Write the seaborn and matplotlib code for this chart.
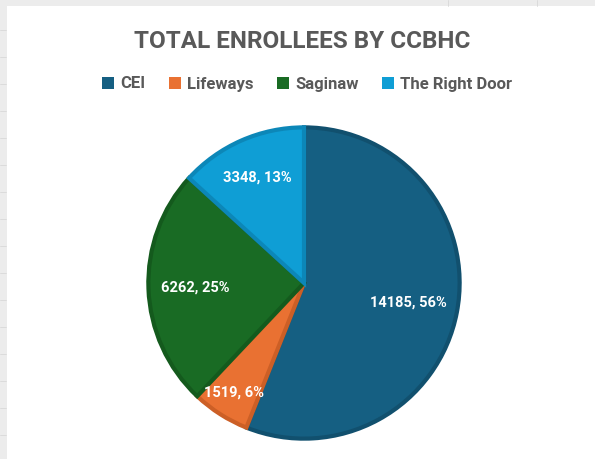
import matplotlib
matplotlib.use("Agg")
import matplotlib.pyplot as plt
from matplotlib.patches import Patch, Rectangle
from matplotlib.lines import Line2D
import seaborn as sns
import numpy as np

# ---- data ----
categories = ["CEI", "Lifeways", "Saginaw", "The Right Door"]
enrollees = [14185, 1519, 6262, 3348]
title = "TOTAL ENROLLEES BY CCBHC"

colors = ["#155F82", "#E97132", "#196B24", "#0F9ED5"]
edge_colors = ["#11506e", "#cc5f26", "#145a1d", "#0c87b8"]

sns.set_theme(style="white")
plt.rcParams["font.family"] = ["Roboto", "DejaVu Sans"]

W, H = 595, 459
fig = plt.figure(figsize=(W / 100, H / 100), dpi=100)
fig.patch.set_facecolor("#ececec")

# white chart area (spreadsheet look around it)
fig.add_artist(Rectangle((7 / W, 0), 1, 1 - 6 / H, transform=fig.transFigure,
                         facecolor="white", edgecolor="none", zorder=0))
for yy in range(30, H, 27):
    fig.add_artist(Line2D([0, 6 / W], [1 - yy / H] * 2, transform=fig.transFigure,
                          color="#d8d8d8", lw=0.6))
for xx in (448, 537):
    fig.add_artist(Line2D([xx / W] * 2, [1 - 6 / H, 1], transform=fig.transFigure,
                          color="#d8d8d8", lw=0.6))

cx, cy, r = 304, 176, 158
ax = fig.add_axes([(cx - r) / W, (cy - r) / H, 2 * r / W, 2 * r / H])
ax.axis("off")

total = sum(enrollees)
wedges, _ = ax.pie(enrollees, colors=colors, startangle=90, counterclock=False,
                   radius=0.985,
                   wedgeprops=dict(linewidth=3, joinstyle="miter"))
ax.set_xlim(-1.0, 1.0)
ax.set_ylim(-1.0, 1.0)
for w, ec in zip(wedges, edge_colors):
    w.set_edgecolor(ec)

label_dist = [0.67, 0.82, 0.69, 0.73]
for w, v, d in zip(wedges, enrollees, label_dist):
    ang = np.deg2rad((w.theta1 + w.theta2) / 2)
    pct = round(100 * v / total)
    ax.text(d * np.cos(ang), d * np.sin(ang), f"{v}, {pct}%", ha="center", va="center",
            color="white", fontsize=10.5, fontweight="bold")

fig.text(302 / W, 1 - 41 / H, title, ha="center", va="center", fontsize=17.5,
         fontweight="bold", color="#595959")

handles = [Patch(facecolor=c, edgecolor="none", label=l) for c, l in zip(colors, categories)]
leg = fig.legend(handles=handles, loc="center", bbox_to_anchor=(307 / W, 1 - 84 / H),
                 ncol=4, frameon=False, handlelength=0.75, handleheight=0.75,
                 handletextpad=0.35, columnspacing=1.4, fontsize=12)
for t in leg.get_texts():
    t.set_color("#595959")
    t.set_fontweight("bold")

fig.savefig("out.png", dpi=100, facecolor=fig.get_facecolor())
